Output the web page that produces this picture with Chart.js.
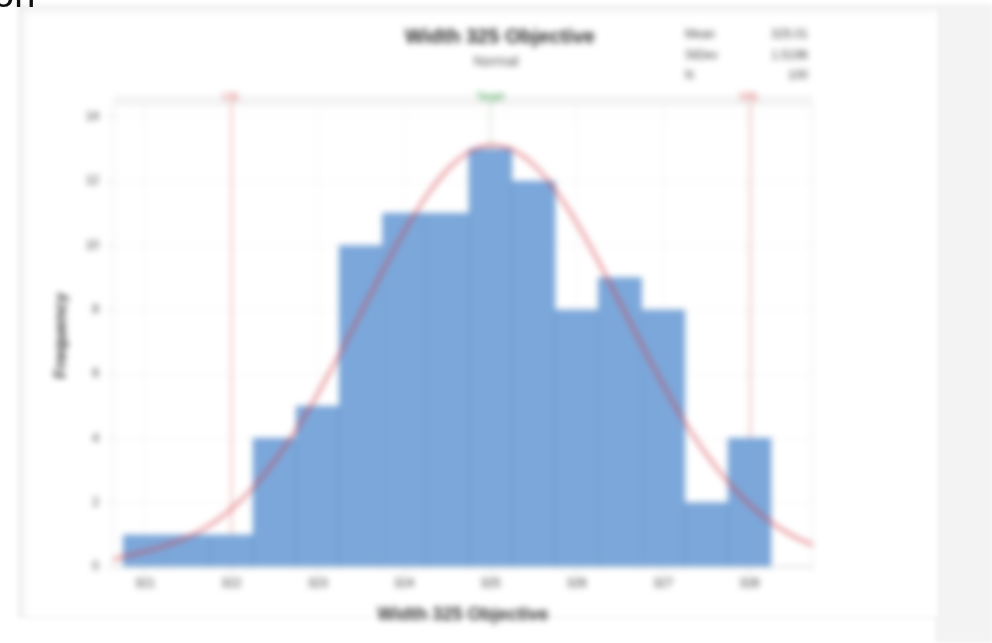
<!DOCTYPE html>
<html>
<head>
<meta charset="utf-8">
<script src="https://cdn.jsdelivr.net/npm/chart.js@4"></script>
<style>
  html, body { margin: 0; padding: 0; width: 992px; height: 643px; overflow: hidden; background: #ffffff; font-family: Arial, "Liberation Sans", sans-serif; }
  #side { position: absolute; left: 936px; top: 4px; width: 56px; height: 639px; background: #f3f3f3; border-left: 1px solid #e4e4e4; filter: blur(2px); }
  #card { position: absolute; left: 18px; top: 5px; width: 918px; height: 611px; background: #ffffff;
          border-top: 1px solid #e8e8e8; border-left: 1px solid #e8e8e8; border-bottom: 1px solid #e8e8e8;
          box-shadow: inset 10px 10px 12px -8px rgba(0,0,0,0.09); filter: blur(2px); }
  #head { position: absolute; left: -7px; top: -27px; font-size: 38px; color: #111; white-space: nowrap; }
  #wrap { position: absolute; left: 0; top: 0; width: 992px; height: 643px; filter: blur(3px); }
</style>
</head>
<body>
<div id="side"></div>
<div id="card"></div>
<div id="wrap"><canvas id="chart" width="992" height="643"></canvas></div>
<div id="head">on</div>
<script>
// Histogram bins (bin centres) and counts
const binCenters = [321, 321.5, 322, 322.5, 323, 323.5, 324, 324.5, 325, 325.5, 326, 326.5, 327, 327.5, 328];
const frequencies = [1, 1, 1, 4, 5, 10, 11, 11, 13, 12, 8, 9, 8, 2, 4];

// Fitted normal curve, sampled along the axis
const fitX = [320.63, 320.75, 321, 321.25, 321.5, 321.75, 322, 322.25, 322.5, 322.75, 323, 323.25, 323.5, 323.75,
              324, 324.25, 324.5, 324.75, 325, 325.25, 325.5, 325.75, 326, 326.25, 326.5, 326.75, 327, 327.25,
              327.5, 327.75, 328, 328.25, 328.5, 328.735];
const fitY = [0.23, 0.32, 0.48, 0.68, 0.94, 1.3, 1.8, 2.46, 3.29, 4.26, 5.38, 6.61, 7.9, 9.2,
              10.43, 11.5, 12.35, 12.9, 13.12, 12.98, 12.51, 11.73, 10.7, 9.51, 8.22, 6.92, 5.66, 4.51,
              3.5, 2.65, 1.94, 1.39, 0.97, 0.68];

// Axis ticks
const xTicks = [321, 322, 323, 324, 325, 326, 327, 328];
const yTicks = [0, 2, 4, 6, 8, 10, 12, 14];

// Specification limits
const specNames = ['LSL', 'Target', 'USL'];
const specValues = [322, 325, 328];
const specColors = ['#d9534f', '#2e9a3e', '#d9534f'];

// Summary statistics
const statLabels = ['Mean', 'StDev', 'N'];
const statValues = ['325.01', '1.5196', '100'];

const titleText = 'Width 325 Objective';
const subtitleText = 'Normal';
const xTitle = 'Width 325 Objective';
const yTitle = 'Frequency';

const histData = binCenters.map((x, i) => ({ x: x, y: frequencies[i] }));
const fitData = fitX.map((x, i) => ({ x: x, y: fitY[i] }));

// Plot frame, spec-limit lines behind the bars, titles and statistics on top
const specPlugin = {
  id: 'specLines',
  beforeDatasetsDraw(chart) {
    const { ctx, chartArea, scales } = chart;
    ctx.save();
    ctx.strokeStyle = '#e0e0e0';
    ctx.lineWidth = 1;
    ctx.strokeRect(chartArea.left + 0.5, chartArea.top + 0.5, chartArea.right - chartArea.left - 1, chartArea.bottom - chartArea.top - 1);
    ctx.fillStyle = 'rgba(0,0,0,0.04)';
    ctx.fillRect(chartArea.left, chartArea.top - 9, chartArea.right - chartArea.left, 9);
    specValues.forEach((v, i) => {
      const px = Math.round(scales.x.getPixelForValue(v)) + 0.5;
      ctx.beginPath();
      ctx.strokeStyle = i === 1 ? 'rgba(150,185,150,0.7)' : 'rgba(225,110,110,0.6)';
      ctx.lineWidth = i === 1 ? 1 : 1.5;
      ctx.moveTo(px, chartArea.top - 2);
      ctx.lineTo(px, chartArea.bottom);
      ctx.stroke();
    });
    ctx.restore();
  },
  afterDraw(chart) {
    const { ctx, chartArea, scales } = chart;
    ctx.save();
    ctx.textAlign = 'center';
    ctx.textBaseline = 'middle';
    ctx.font = '10px Arial, "Liberation Sans", sans-serif';
    specValues.forEach((v, i) => {
      ctx.fillStyle = specColors[i];
      ctx.fillText(specNames[i], scales.x.getPixelForValue(v), chartArea.top - 7);
    });
    // title and subtitle
    ctx.fillStyle = '#2a2a2a';
    ctx.font = 'bold 20px Arial, "Liberation Sans", sans-serif';
    ctx.fillText(titleText, 500, 37);
    ctx.fillStyle = '#555';
    ctx.font = '14px Arial, "Liberation Sans", sans-serif';
    ctx.fillText(subtitleText, 496, 62);
    // statistics table
    ctx.font = '12px Arial, "Liberation Sans", sans-serif';
    ctx.fillStyle = '#3a3a3a';
    statLabels.forEach((s, i) => {
      const y = 35 + i * 20.5;
      ctx.textAlign = 'left';
      ctx.fillText(s, 685, y);
      ctx.textAlign = 'right';
      ctx.fillText(statValues[i], 808, y);
    });
    ctx.restore();
  }
};

new Chart(document.getElementById('chart'), {
  type: 'bar',
  data: {
    datasets: [
      {
        type: 'line',
        data: fitData,
        borderColor: 'rgba(215,60,70,0.62)',
        borderWidth: 3,
        pointRadius: 0,
        cubicInterpolationMode: 'monotone',
        fill: false,
        order: 0
      },
      {
        type: 'bar',
        data: histData,
        backgroundColor: '#7ba7da',
        borderColor: '#6b96cc',
        borderWidth: 1,
        barPercentage: 1,
        categoryPercentage: 1,
        grouped: false,
        order: 1
      }
    ]
  },
  plugins: [specPlugin],
  options: {
    responsive: false,
    animation: false,
    events: [],
    layout: { padding: { left: 49, top: 104, right: 179, bottom: 13 } },
    plugins: { legend: { display: false }, tooltip: { enabled: false } },
    scales: {
      x: {
        type: 'linear',
        offset: false,
        min: 320.63,
        max: 328.735,
        afterBuildTicks: (s) => { s.ticks = xTicks.map(v => ({ value: v })); },
        afterFit: (s) => { s.height = 63; },
        grid: { offset: false, color: '#f0f0f0', tickColor: '#d6d6d6', tickLength: 6 },
        border: { color: '#dcdcdc' },
        ticks: { color: '#333', font: { size: 12 }, padding: 3, maxRotation: 0, callback: (v) => String(v) },
        title: { display: true, text: xTitle, color: '#333', font: { size: 18, weight: 'bold' }, padding: { top: 4, bottom: 4 } }
      },
      y: {
        min: 0,
        max: 14.4,
        afterBuildTicks: (s) => { s.ticks = yTicks.map(v => ({ value: v })); },
        afterFit: (s) => { s.width = 64; },
        grid: { color: '#f2f2f2', tickColor: '#d6d6d6', tickLength: 6 },
        border: { color: '#dcdcdc' },
        ticks: { color: '#333', font: { size: 12 }, padding: 8, callback: (v) => String(v) },
        title: { display: true, text: yTitle, color: '#333', font: { size: 17, weight: 'bold' }, padding: { top: 2, bottom: 2 } }
      }
    }
  }
});
</script>
</body>
</html>
